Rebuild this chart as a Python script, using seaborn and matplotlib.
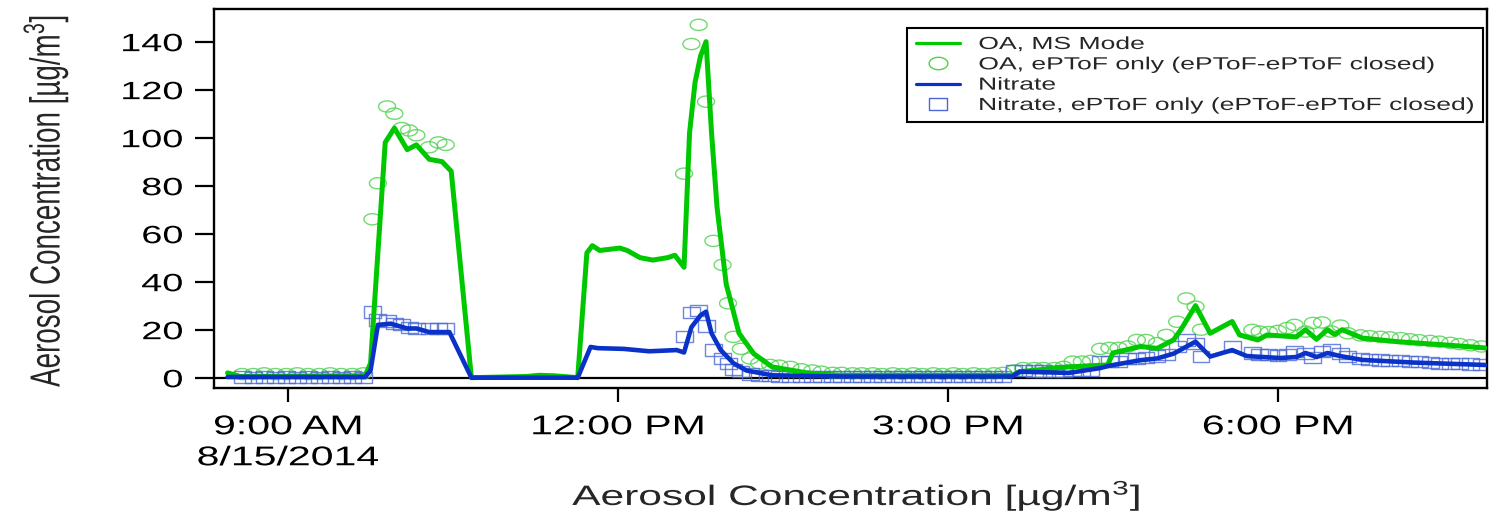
import numpy as np
import pandas as pd
import matplotlib
matplotlib.use("Agg")
import matplotlib.pyplot as plt
import matplotlib.dates as mdates
from matplotlib.path import Path
from matplotlib.lines import Line2D
from matplotlib.transforms import Affine2D
from matplotlib.patheffects import AbstractPathEffect
import seaborn as sns

DAY = "2014-08-15"

# ---------------- data ----------------
oa_ms_time = ["08:27", "08:34", "09:42", "09:45", "09:53", "09:58", "10:05", "10:10", "10:17", "10:24",
              "10:29", "10:40", "11:10", "11:17", "11:25", "11:38", "11:43", "11:46", "11:50", "12:01",
              "12:05", "12:12", "12:19", "12:27", "12:31", "12:36", "12:39", "12:42", "12:45", "12:48",
              "12:51", "12:54", "12:59", "13:06", "13:14", "13:24", "13:43", "14:01", "15:35", "15:39",
              "16:06", "16:27", "16:30", "16:45", "16:54", "17:03", "17:07", "17:15", "17:23", "17:35",
              "17:39", "17:49", "17:54", "18:10", "18:15", "18:21", "18:27", "18:31", "18:35", "18:46",
              "19:05", "19:32", "19:53"]
oa_ms_val = [2, 0.5, 0.8, 6, 98, 104, 95, 97, 91, 90,
             86, 0, 0.5, 1, 0.8, 0, 52, 55, 53, 54,
             53, 50, 49, 50, 51, 46, 102, 123, 134, 140,
             102, 71, 39, 18.5, 10, 4.5, 2, 1, 1, 2.5,
             4.5, 5.3, 10.3, 13, 12.2, 15.7, 20, 30, 18.5, 23.4,
             17.8, 15.7, 17.8, 17, 20, 16, 20, 18, 20, 16.5,
             15, 13.6, 12.4]

no3_time = ["08:27", "09:42", "09:45", "09:49", "09:56", "10:05", "10:10", "10:17", "10:28", "10:40",
            "11:38", "11:45", "11:49", "12:03", "12:17", "12:32", "12:36", "12:40", "12:45", "12:48",
            "12:51", "12:56", "13:03", "13:10", "13:24", "14:01", "15:35", "15:39", "16:06", "16:23",
            "16:28", "16:45", "16:54", "17:03", "17:15", "17:23", "17:35", "17:43", "18:01", "18:10",
            "18:15", "18:21", "18:27", "18:34", "18:46", "19:14", "19:53"]
no3_val = [0.3, 0.3, 3, 22, 22.5, 20.5, 20.5, 19, 19, 0,
           0, 12.8, 12.3, 12, 11, 11.5, 10.5, 21, 26, 27.5,
           18.5, 11.5, 6, 3, 1, 0.5, 0.5, 2.5, 2, 4,
           5, 7.3, 8, 10, 15, 8.8, 11.5, 9, 8.2, 8.6,
           10.3, 8.6, 10.3, 9, 7.4, 6.3, 5.3]

oa_ep_time = ["08:35", "08:41", "08:47", "08:53", "08:59", "09:05", "09:11", "09:17", "09:23", "09:29", "09:35", "09:41",
              "09:46", "09:49", "09:54", "09:58", "10:02", "10:06", "10:10", "10:17", "10:22", "10:26",
              "12:36", "12:40", "12:44", "12:48", "12:52", "12:57", "13:00", "13:03", "13:07", "13:12", "13:17", "13:23",
              "13:28", "13:34", "13:40", "13:46", "13:51", "13:57", "14:02", "14:08", "14:13", "14:19", "14:24", "14:30",
              "14:35", "14:41", "14:46", "14:52", "14:57", "15:03", "15:08", "15:14", "15:19", "15:25", "15:30",
              "15:36", "15:41", "15:47", "15:52", "15:58", "16:03", "16:08", "16:13", "16:18", "16:23", "16:28", "16:33",
              "16:38", "16:43", "16:48", "16:54", "16:59", "17:05", "17:10", "17:15", "17:18",
              "17:46", "17:50", "17:55", "18:00", "18:05", "18:09", "18:15", "18:19", "18:24", "18:29", "18:34", "18:38",
              "18:45", "18:50", "18:56", "19:01", "19:07", "19:12", "19:17", "19:23", "19:28", "19:34", "19:39", "19:45", "19:51"]
oa_ep_val = [1.5, 1.5, 1.8, 1.5, 1.5, 1.8, 1.5, 1.5, 1.8, 1.5, 1.5, 1.8,
             66, 81, 113, 110, 104, 103, 101, 96, 98, 97,
             85, 139, 147, 115, 57, 47, 31, 17, 12, 8, 6, 5.3,
             5, 4.5, 3.5, 3, 2.5, 2, 2, 1.8, 1.8, 1.8, 1.5, 1.8,
             1.5, 1.8, 1.5, 1.8, 1.5, 1.8, 1.5, 1.8, 1.5, 1.8, 2,
             3, 4, 4, 4, 4, 4.5, 6.7, 6.7, 7, 12, 12.4, 12.4,
             13, 15.7, 15.7, 14.4, 17.8, 23.3, 33, 29.6, 20,
             19.9, 19.2, 19, 19.5, 20.7, 22, 19.2, 22.8, 23, 19.2, 21.7, 18.5,
             17.6, 17.3, 17, 16.8, 16.5, 16, 15.6, 15.3, 15, 14.5, 14, 13.5, 13]

no3_ep_time = ["08:35", "08:41", "08:47", "08:53", "08:59", "09:05", "09:11", "09:17", "09:23", "09:29", "09:35", "09:41",
               "09:46", "09:49", "09:54", "09:58", "10:02", "10:06", "10:10", "10:17", "10:22", "10:26",
               "12:36", "12:40", "12:44", "12:48", "12:52", "12:57", "13:00", "13:03", "13:07", "13:12", "13:17", "13:23",
               "13:28", "13:34", "13:40", "13:46", "13:51", "13:57", "14:02", "14:08", "14:13", "14:19", "14:24", "14:30",
               "14:35", "14:41", "14:46", "14:52", "14:57", "15:03", "15:08", "15:14", "15:19", "15:25", "15:30",
               "15:36", "15:41", "15:47", "15:52", "15:58", "16:03", "16:08", "16:13", "16:18", "16:23", "16:28", "16:33",
               "16:38", "16:43", "16:48", "16:54", "16:59", "17:05", "17:10", "17:15", "17:18", "17:35",
               "17:46", "17:50", "17:55", "18:00", "18:05", "18:09", "18:15", "18:19", "18:24", "18:29", "18:34", "18:38",
               "18:45", "18:50", "18:56", "19:01", "19:07", "19:12", "19:17", "19:23", "19:28", "19:34", "19:39", "19:45", "19:51"]
no3_ep_val = [0.3, 0.2, 0.3, 0.2, 0.3, 0.2, 0.3, 0.2, 0.3, 0.2, 0.3, 0.2,
              27.4, 24, 23.6, 22.6, 22, 21, 20.5, 20.5, 20.5, 20.5,
              17, 27, 28, 21.5, 11.5, 8, 6, 3.5, 2.5, 1.5, 1, 0.8,
              0.6, 0.5, 0.5, 0.4, 0.5, 0.4, 0.5, 0.4, 0.5, 0.4, 0.5, 0.4,
              0.5, 0.4, 0.5, 0.4, 0.5, 0.4, 0.5, 0.4, 0.5, 0.4, 0.5,
              3, 3, 2.8, 2.8, 2.5, 2.8, 3, 3, 3.2, 6.7, 6.7, 6.7,
              8, 8, 8.5, 9, 9.5, 13, 15.7, 14.4, 8.8, 12.9,
              10.3, 9.5, 9.5, 9.3, 9.5, 10.8, 10, 8.3, 10.8, 11.5, 10.2, 8.8,
              8, 7.6, 7.4, 7.2, 7, 6.8, 6.6, 6.3, 6, 5.9, 5.8, 5.7, 5.5]

series_labels = ["OA, MS Mode", "OA, ePToF only (ePToF-ePToF closed)",
                 "Nitrate", "Nitrate, ePToF only (ePToF-ePToF closed)"]
tick_times = ["09:00", "12:00", "15:00", "18:00"]
tick_labels = ["9:00 AM\n8/15/2014", "12:00 PM", "3:00 PM", "6:00 PM"]
y_ticks = [0, 20, 40, 60, 80, 100, 120, 140]
axis_label = "Aerosol Concentration [µg/m$^{3}$]"

# ---------------- style ----------------
sns.set_style("ticks")
plt.rcParams["font.family"] = ["Liberation Sans", "DejaVu Sans"]
plt.rcParams["mathtext.fontset"] = "custom"
plt.rcParams["mathtext.rm"] = "Liberation Sans"
plt.rcParams["mathtext.it"] = "Liberation Sans:italic"
plt.rcParams["mathtext.bf"] = "Liberation Sans:bold"

GREEN = "#00C800"
GREEN_PT = "#4CD24C"
BLUE = "#0A32C8"
BLUE_PT = "#4A68D8"
SQ = 0.66          # the reference image is squashed vertically
SX = 1.0 / SQ      # so glyphs look wide: stretch text horizontally


class Widen(AbstractPathEffect):
    """Stretch glyphs horizontally about their left / centre / right ink edge."""
    def __init__(self, sx=SX, mode="center"):
        super().__init__()
        self._sx = sx
        self._mode = mode

    def draw_path(self, renderer, gc, tpath, affine, rgbFace=None):
        ext = tpath.get_extents(affine)
        if self._mode == "left":
            px = ext.x0
        elif self._mode == "right":
            px = ext.x1
        else:
            px = 0.5 * (ext.x0 + ext.x1)
        if np.isfinite(px):
            affine = affine + Affine2D().translate(-px, 0).scale(self._sx, 1).translate(px, 0)
        renderer.draw_path(gc, tpath, affine, rgbFace)


def to_dt(ts):
    return pd.to_datetime([f"{DAY} {t}" for t in ts])


df_oa = pd.DataFrame({"time": to_dt(oa_ms_time), "val": oa_ms_val})
df_no3 = pd.DataFrame({"time": to_dt(no3_time), "val": no3_val})
df_oa_ep = pd.DataFrame({"time": to_dt(oa_ep_time), "val": oa_ep_val})
df_no3_ep = pd.DataFrame({"time": to_dt(no3_ep_time), "val": no3_ep_val})

theta = np.linspace(0, 2 * np.pi, 65)
ellipse = Path(np.column_stack([np.cos(theta), SQ * np.sin(theta)]), closed=True)
rect = Path([(-1, -SQ), (1, -SQ), (1, SQ), (-1, SQ), (-1, -SQ)], closed=True)

W, H = 1493, 516
fig = plt.figure(figsize=(W / 100, H / 100), dpi=100)
L, R, T, B = 214, 1487, 9, 388
ax = fig.add_axes([L / W, 1 - B / H, (R - L) / W, (B - T) / H])

ax.axhline(0, color="black", lw=1.6, zorder=1.5)
sns.scatterplot(data=df_oa_ep, x="time", y="val", marker=ellipse, s=12.2 ** 2,
                facecolor="none", edgecolor=GREEN_PT, linewidth=1.0, alpha=0.8, ax=ax, zorder=2)
sns.scatterplot(data=df_no3_ep, x="time", y="val", marker=rect, s=12.2 ** 2,
                facecolor="none", edgecolor=BLUE_PT, linewidth=1.0, alpha=0.8, ax=ax, zorder=2.1)
sns.lineplot(data=df_oa, x="time", y="val", color=GREEN, lw=3.6, estimator=None, ax=ax, zorder=3)
sns.lineplot(data=df_no3, x="time", y="val", color=BLUE, lw=3.3, estimator=None, ax=ax, zorder=4)

ax.set_xlim(mdates.date2num(pd.Timestamp(f"{DAY} 08:19:36")),
            mdates.date2num(pd.Timestamp(f"{DAY} 19:54:00")))
ax.set_ylim(-4.3, 153.6)
ax.set_xticks(mdates.date2num(to_dt(tick_times).to_pydatetime()))
ax.set_xticklabels(tick_labels, linespacing=1.25)
ax.set_yticks(y_ticks)
ax.set_xlabel("")
ax.set_ylabel("")

for s in ax.spines.values():
    s.set_linewidth(1.7)
    s.set_color("black")
    s.set_visible(True)
ax.tick_params(axis="y", direction="out", length=13.7, width=1.6, labelsize=18, pad=8.6,
               colors="black", left=True, right=False)
ax.tick_params(axis="x", direction="out", length=10, width=1.6, labelsize=19.5, pad=8.9,
               colors="black", bottom=True, top=False)

ylab = fig.text(46 / W, 1 - 201 / H, axis_label, rotation=90, ha="center", va="center", fontsize=20)
xlab = fig.text(856 / W, 1 - 505 / H, axis_label, ha="center", va="baseline", fontsize=20.2)

handles = [
    Line2D([], [], color=GREEN, lw=2.3),
    Line2D([], [], ls="", marker=ellipse, ms=13.5, mfc="none", mec=GREEN_PT, mew=1.0),
    Line2D([], [], color=BLUE, lw=2.3),
    Line2D([], [], ls="", marker=rect, ms=13.5, mfc="none", mec=BLUE_PT, mew=1.0),
]
ax_w, ax_h = R - L, B - T
leg = ax.legend(handles, series_labels, loc="upper left", mode="expand",
                bbox_to_anchor=((907 - L) / ax_w, 0.5, (1483 - 907) / ax_w, (B - 28) / ax_h - 0.5),
                borderaxespad=0, fontsize=12.6, frameon=True, fancybox=False, shadow=False,
                edgecolor="black", framealpha=1, handlelength=2.5, handletextpad=1.1,
                labelspacing=0.29, borderpad=0.5)
leg.get_frame().set_linewidth(1.5)

fig.canvas.draw()
for t in ax.get_xticklabels():
    t.set_path_effects([Widen(SX, "center")])
for t in ax.get_yticklabels():
    t.set_path_effects([Widen(SX, "right")])
for t in leg.get_texts():
    t.set_path_effects([Widen(SX, "left")])
xlab.set_path_effects([Widen(SX, "center")])
ylab.set_path_effects([Widen(SX, "center")])

fig.savefig("out.png", dpi=100)
